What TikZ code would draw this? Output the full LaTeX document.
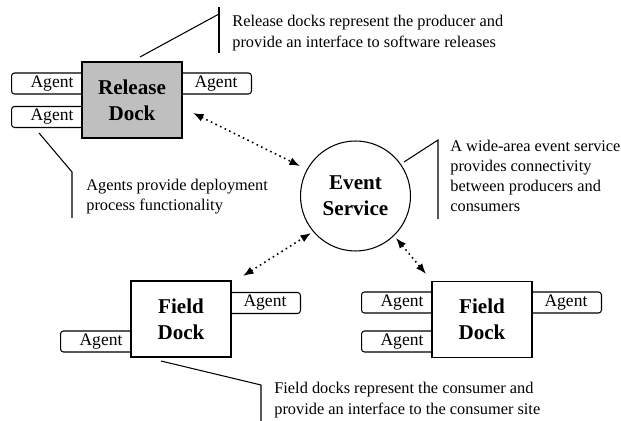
\documentclass[tikz,border=0pt]{standalone}
\usepackage{fontspec}
\setmainfont{Liberation Serif}
\usetikzlibrary{arrows.meta}
\tikzset{
  dock/.style={draw, line width=0.6pt, fill=white, minimum width=2cm, minimum height=1.52cm, align=center, font=\fontsize{12}{15}\selectfont\bfseries},
  agent/.style={draw, line width=0.6pt, rounded corners=1.7pt, fill=white, minimum width=1.62cm, minimum height=0.42cm, inner sep=0pt, font=\fontsize{10}{12}\selectfont},
  event/.style={draw, circle, line width=0.6pt, minimum size=2.2cm, inner sep=0pt, align=center, font=\fontsize{12}{15}\selectfont\bfseries},
  note/.style={anchor=west, inner sep=0pt, align=left, font=\fontsize{9.3}{11.5}\selectfont},
  link/.style={line width=0.9pt, dotted, {Latex[length=6pt,width=4.5pt]}-{Latex[length=6pt,width=4.5pt]}},
  callout/.style={line width=0.6pt}
}
\begin{document}
\begin{tikzpicture}[x=0.02cm, y=-0.02cm]
\useasboundingbox (0,0) rectangle (621,421);
% release dock
\node[agent, anchor=west] (relA) at (11,83.5) {Agent\hspace{0.2cm}};
\node[agent, anchor=west] (relB) at (11,117) {Agent\hspace{0.2cm}};
\node[agent, anchor=east] (relC) at (252,83.5) {\hspace{0.2cm}Agent};
\node[dock, fill=black!25] (rel) at (132,100) {Release\\Dock};
% field docks
\node[agent, anchor=west] (fldLA) at (60,341.5) {Agent\hspace{0.2cm}};
\node[agent, anchor=east] (fldLB) at (301,303) {\hspace{0.2cm}Agent};
\node[dock] (fldL) at (181,319) {Field\\Dock};
\node[agent, anchor=west] (fldRA) at (361,302.5) {Agent\hspace{0.2cm}};
\node[agent, anchor=west] (fldRB) at (361,341.5) {Agent\hspace{0.2cm}};
\node[agent, anchor=east] (fldRC) at (602,302.5) {\hspace{0.2cm}Agent};
\node[dock] (fldR) at (482,319.5) {Field\\Dock};
% event service
\node[event] (ev) at (355.5,196) {Event\\Service};
% links
\coordinate (relP) at (193,113);
\coordinate (evP1) at (300,166);
\coordinate (evP2) at (311,233);
\coordinate (evP3) at (396,238);
\coordinate (fldLP) at (243,276);
\coordinate (fldRP) at (426,274);
\draw[link] (relP) -- (evP1);
\draw[link] (fldLP) -- (evP2);
\draw[link] (evP3) -- (fldRP);
% notes
\node[note] (relNote) at (232,33) {Release docks represent the producer and\\provide an interface to software releases};
\node[note] (agNote) at (86,196.5) {Agents provide deployment\\process functionality};
\node[note] (evNote) at (450,176) {A wide-area event service\\provides connectivity\\between producers and\\consumers};
\node[note] (fldNote) at (274,400) {Field docks represent the consumer and\\provide an interface to the consumer site};
\coordinate (relTip) at (140,57);
\coordinate (agTip) at (39,133);
\coordinate (evTip) at (404,162);
\coordinate (fldTip) at (161,361);
\draw[callout] (relTip) -- (219,14);
\draw[callout] (219,7) -- (219,53);
\draw[callout] (agTip) -- (72,172) -- (72,218);
\draw[callout] (evTip) -- (438,140) -- (438,219);
\draw[callout] (fldTip) -- (261,385) -- (261,421);
\end{tikzpicture}
\end{document}
